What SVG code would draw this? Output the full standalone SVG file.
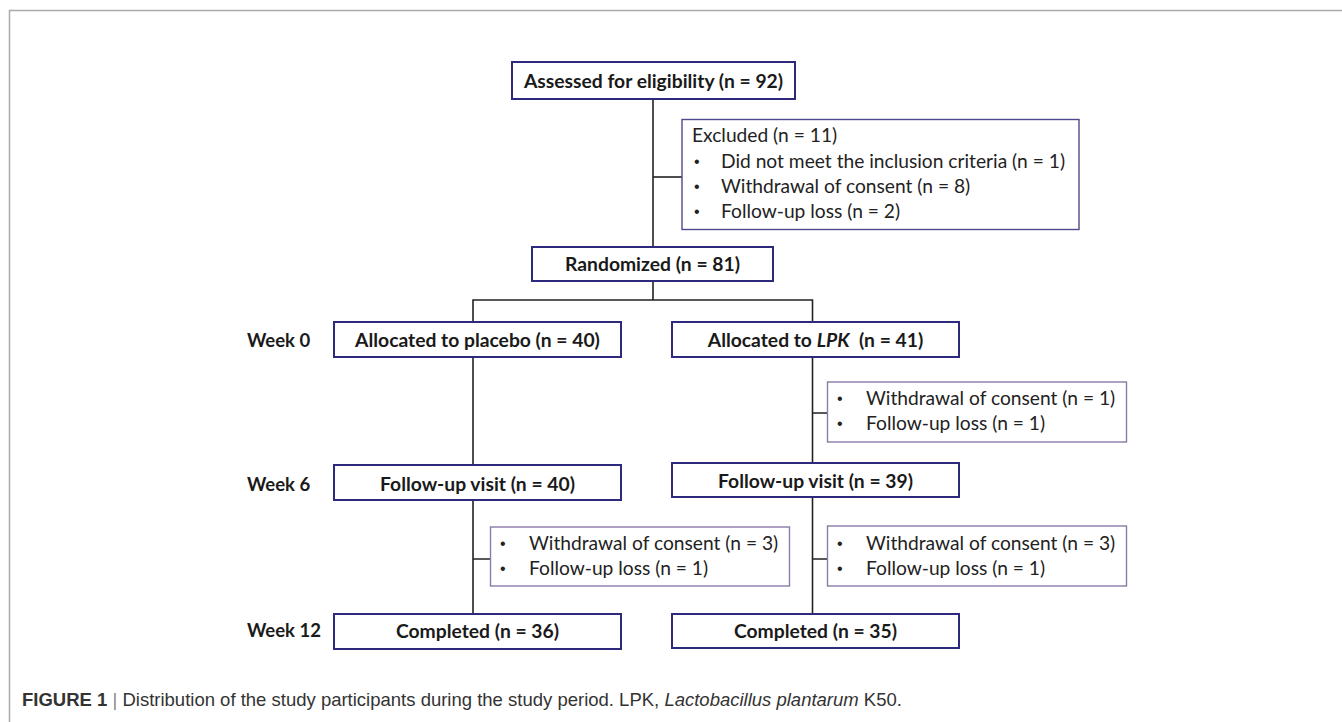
<svg xmlns="http://www.w3.org/2000/svg" width="1342" height="722" viewBox="0 0 1342 722">
<style>
.main{fill:#fff;stroke:#2d2a7e;stroke-width:2}
.side{fill:#fff;stroke:#8c7aa8;stroke-width:1.4}
.excl{fill:#fff;stroke:#4f4a8c;stroke-width:1.4}
.b{font-family:Lato,"Liberation Sans",sans-serif;font-weight:bold;font-size:19.3px;fill:#1a1a1a}
.w{font-family:Lato,"Liberation Sans",sans-serif;font-weight:bold;font-size:18.5px;fill:#1a1a1a}
.r{font-family:Lato,"Liberation Sans",sans-serif;font-size:19.2px;fill:#222}
.d{font-family:"Liberation Sans",sans-serif;font-size:16px;fill:#222}
.c{text-anchor:middle}
.conn{stroke:#222;stroke-width:1.6;fill:none}
.cap{font-family:"Liberation Sans",sans-serif;font-size:18.5px;fill:#333}
</style>
<rect x="0" y="0" width="1342" height="722" fill="#fff"/>
<path d="M9.5 722 V10.5 H1342" stroke="#aaa" stroke-width="1.5" fill="none"/>
<g id="connectors" class="conn">
<path d="M653 99 V247"/>
<path d="M653 177 H682"/>
<path d="M653 281 V300 M473 322 V300 H812.5 V322"/>
<path d="M473 357 V465"/>
<path d="M812.5 357 V463 M812.5 413 H827.5"/>
<path d="M473 500 V614 M473 559 H490.5"/>
<path d="M812.5 497 V614 M812.5 559 H827.5"/>
</g>
<g id="assessed"><rect class="main" x="512" y="62" width="283" height="37"/><text class="b c" x="653.5" y="87.5">Assessed for eligibility (n = 92)</text></g>
<g id="excluded"><rect class="excl" x="682" y="119.5" width="397" height="110"/>
<text class="r" x="692" y="142">Excluded (n = 11)</text>
<text class="d" x="694" y="167">•</text><text class="r" x="721" y="168">Did not meet the inclusion criteria (n = 1)</text>
<text class="d" x="694" y="192">•</text><text class="r" x="721" y="193">Withdrawal of consent (n = 8)</text>
<text class="d" x="694" y="217">•</text><text class="r" x="721" y="218">Follow-up loss (n = 2)</text></g>
<g id="randomized"><rect class="main" x="532" y="247" width="241" height="34"/><text class="b c" x="652.5" y="271">Randomized (n = 81)</text></g>
<g id="week0"><text class="w" x="247" y="347">Week 0</text></g>
<g id="week6"><text class="w" x="247" y="491">Week 6</text></g>
<g id="week12"><text class="w" x="247" y="637">Week 12</text></g>
<g id="alloc-placebo"><rect class="main" x="334" y="322" width="287" height="35"/><text class="b c" x="477.5" y="346.5">Allocated to placebo (n = 40)</text></g>
<g id="alloc-lpk"><rect class="main" x="672" y="322" width="287" height="35"/><text class="b c" x="815.5" y="346.5" xml:space="preserve">Allocated to <tspan font-style="italic">LPK</tspan>  (n = 41)</text></g>
<g id="lpk-loss1"><rect class="side" x="827.5" y="382" width="299" height="60"/>
<text class="d" x="837" y="404">•</text><text class="r" x="866" y="405">Withdrawal of consent (n = 1)</text>
<text class="d" x="837" y="429">•</text><text class="r" x="866" y="430">Follow-up loss (n = 1)</text></g>
<g id="fu-placebo"><rect class="main" x="334" y="465" width="287" height="35"/><text class="b c" x="477.5" y="490.5">Follow-up visit (n = 40)</text></g>
<g id="fu-lpk"><rect class="main" x="672" y="463" width="287" height="34"/><text class="b c" x="815.5" y="487.5">Follow-up visit (n = 39)</text></g>
<g id="placebo-loss2"><rect class="side" x="490.5" y="527" width="299" height="59"/>
<text class="d" x="500" y="549">•</text><text class="r" x="529" y="550">Withdrawal of consent (n = 3)</text>
<text class="d" x="500" y="574">•</text><text class="r" x="529" y="575">Follow-up loss (n = 1)</text></g>
<g id="lpk-loss2"><rect class="side" x="827.5" y="526" width="299" height="60"/>
<text class="d" x="837" y="549">•</text><text class="r" x="866" y="550">Withdrawal of consent (n = 3)</text>
<text class="d" x="837" y="574">•</text><text class="r" x="866" y="575">Follow-up loss (n = 1)</text></g>
<g id="completed-placebo"><rect class="main" x="334" y="614" width="287" height="35"/><text class="b c" x="477.5" y="638">Completed (n = 36)</text></g>
<g id="completed-lpk"><rect class="main" x="672" y="614" width="287" height="34"/><text class="b c" x="815.5" y="638">Completed (n = 35)</text></g>
<g id="caption"><text class="cap" x="22" y="706"><tspan font-weight="bold">FIGURE 1</tspan><tspan fill="#888"> | </tspan>Distribution of the study participants during the study period. LPK, <tspan font-style="italic">Lactobacillus plantarum</tspan> K50.</text></g>
</svg>
